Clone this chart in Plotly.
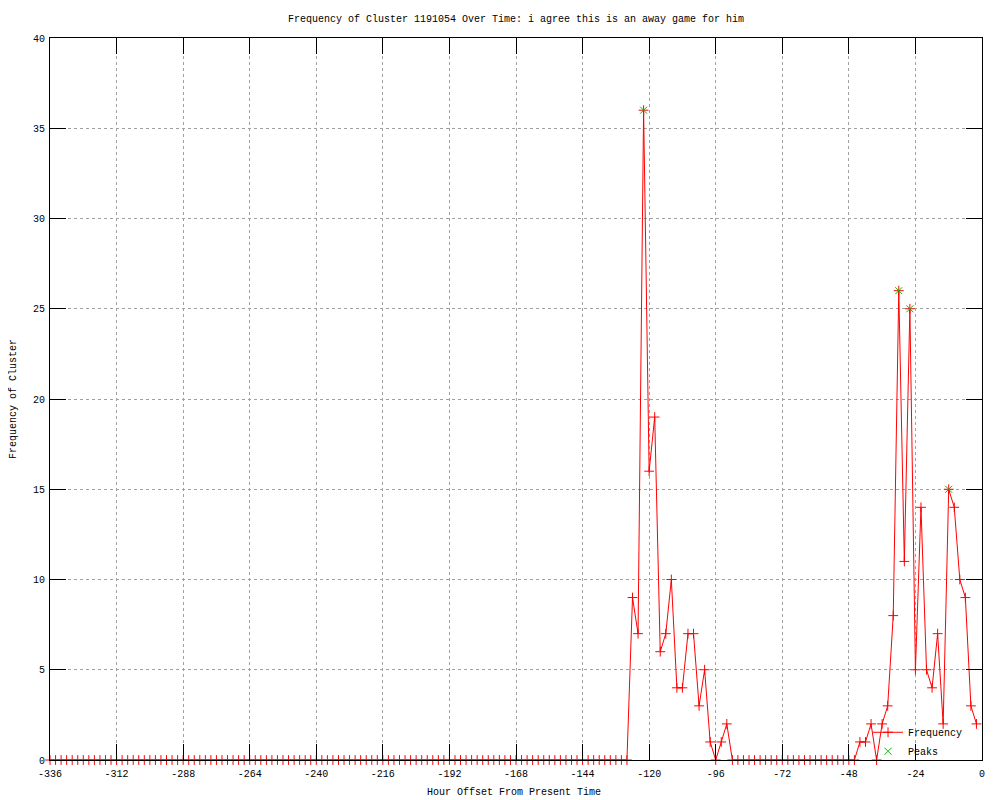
import plotly.graph_objects as go

# Hour offsets (every 2 hours from -336 to -2)
hours = list(range(-336, 0, 2))

# Frequency values per hour offset (non-zero regions)
nonzero = {
    -126: 9, -124: 7, -122: 36, -120: 16, -118: 19, -116: 6, -114: 7, -112: 10,
    -110: 4, -108: 4, -106: 7, -104: 7, -102: 3, -100: 5, -98: 1, -96: 0,
    -94: 1, -92: 2,
    -44: 1, -42: 1, -40: 2, -38: 0, -36: 2, -34: 3, -32: 8, -30: 26,
    -28: 11, -26: 25, -24: 5, -22: 14, -20: 5, -18: 4, -16: 7, -14: 2,
    -12: 15, -10: 14, -8: 10, -6: 9, -4: 3, -2: 2,
}
frequency = [nonzero.get(h, 0) for h in hours]

peak_hours = [-122, -30, -26, -12]
peak_values = [36, 26, 25, 15]

x_tickvals = list(range(-336, 1, 24))
x_ticktext = [str(v) for v in x_tickvals]
y_tickvals = list(range(0, 41, 5))
y_ticktext = [str(v) for v in y_tickvals]

FONT = "Liberation Mono, DejaVu Sans Mono, monospace"

W, H = 1000, 800
ML, MR, MT, MB = 42, 26, 30, 48
PW, PH = W - ML - MR, H - MT - MB

fig = go.Figure()
fig.add_trace(go.Scatter(
    x=hours, y=frequency, mode="lines+markers", name="Frequency",
    line=dict(color="#ff0000", width=1),
    marker=dict(symbol="cross-thin-open", size=7, line=dict(color="#ff0000", width=1), color="#ff0000"),
    cliponaxis=False,
))
fig.add_trace(go.Scatter(
    x=peak_hours, y=peak_values, mode="markers", name="Peaks",
    marker=dict(symbol="x-thin-open", size=7, line=dict(color="#00c000", width=1), color="#00c000"),
    cliponaxis=False,
))

axis_common = dict(
    showline=True, linecolor="black", linewidth=1, mirror="ticks",
    ticks="inside", ticklen=16, tickcolor="black", tickwidth=1,
    showgrid=True, gridcolor="#a0a0a0", griddash="dot", gridwidth=1,
    zeroline=False, automargin=False,
    tickfont=dict(family=FONT, size=10, color="black"),
)

fig.update_layout(
    width=W, height=H,
    margin=dict(l=ML, r=MR, t=MT, b=MB),
    paper_bgcolor="white", plot_bgcolor="white",
    font=dict(family=FONT, size=10, color="black"),
    title=dict(text="Frequency of Cluster 1191054 Over Time: i agree this is an away game for him",
               x=0.508, xanchor="center", y=1 - 10 / H, yanchor="middle",
               font=dict(family=FONT, size=10, color="black")),
    xaxis=dict(range=[-336, 0], tickvals=x_tickvals, ticktext=x_ticktext,
               ticklabelstandoff=4, **axis_common),
    yaxis=dict(range=[0, 40], tickvals=y_tickvals, ticktext=y_ticktext,
               ticklabelstandoff=2, **axis_common),
    showlegend=True,
    legend=dict(x=0.985, y=-0.008, xanchor="right", yanchor="bottom",
                bgcolor="rgba(0,0,0,0)", font=dict(family=FONT, size=10),
                tracegroupgap=0, itemwidth=30),
    annotations=[
        dict(text="Hour Offset From Present Time", xref="paper", yref="paper",
             x=(506 - ML) / PW, y=-(785 - (H - MB)) / PH, xanchor="center", yanchor="middle",
             showarrow=False, font=dict(family=FONT, size=10, color="black")),
        dict(text="Frequency of Cluster", xref="paper", yref="paper",
             x=(5 - ML) / PW, y=0.5, xanchor="center", yanchor="middle", textangle=-90,
             showarrow=False, font=dict(family=FONT, size=10, color="black")),
    ],
)

fig.write_html("out.html")
